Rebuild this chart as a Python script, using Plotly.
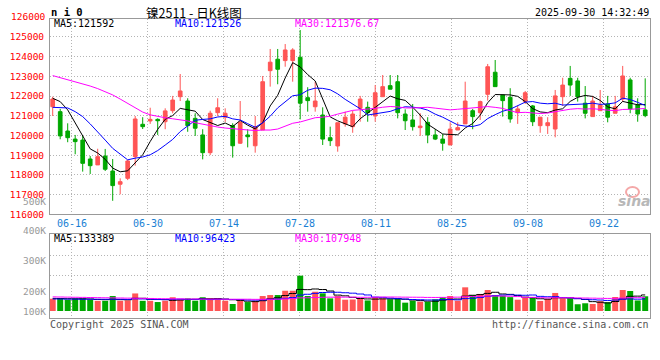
import plotly.graph_objects as go
import pandas as pd

# ---------------- data ----------------
dates = [d.strftime("%m-%d") for d in pd.bdate_range("2025-06-11", "2025-09-30")]
tick_labels = ["06-16", "06-30", "07-14", "07-28", "08-11", "08-25", "09-08", "09-22"]

opens = [121460, 121210, 120230, 119820, 119770, 118810, 118510, 118960, 118200, 117530,
         117830, 118930, 120570, 120740, 120820, 120700, 121260, 121970, 121750, 120870,
         120030, 119130, 121160, 120930, 120500, 119610, 120030, 119480, 120280, 123290,
         123870, 123800, 123800, 123970, 121920, 121460, 121040, 119890, 119470, 120590,
         120450, 121380, 121430, 120990, 121970, 122530, 122730, 121090, 120790, 120400,
         120670, 120030, 119820, 119520, 120280, 120590, 121260, 121160, 122090, 123210,
         122060, 121940, 121160, 121720, 121500, 120500, 120500, 120330, 121970, 122900,
         122770, 121640, 120960, 121260, 121600, 121130, 121850, 122820, 121550, 121300]
highs = [121970, 121350, 120620, 120030, 119980, 118960, 119330, 119320, 118810, 117830,
         118760, 120990, 120930, 121410, 120870, 121380, 122010, 123120, 121890, 121130,
         120320, 121260, 121890, 121380, 120620, 121750, 120320, 120990, 123020, 124390,
         124390, 124640, 124430, 125350, 122450, 122730, 121430, 120450, 120650, 121210,
         121260, 122010, 121720, 122560, 123070, 123070, 123070, 121330, 121600, 121130,
         120930, 120320, 120080, 120670, 120670, 122730, 121350, 121770, 123630, 123830,
         122060, 122400, 121500, 122260, 121550, 120930, 120930, 122310, 122930, 123530,
         122930, 122510, 122010, 122310, 122010, 122010, 123530, 122930, 121890, 122900]
lows = [120990, 119810, 119660, 119050, 118170, 118050, 118510, 118200, 116690, 117020,
        117740, 118470, 120330, 120590, 120030, 120320, 121130, 121750, 120190, 119980,
        118790, 119010, 120990, 120690, 118880, 119570, 119400, 119130, 120280, 122480,
        122600, 123490, 122730, 120820, 121210, 121210, 119520, 119470, 119180, 120450,
        120140, 120700, 120700, 120700, 121970, 122350, 120870, 120280, 120250, 119980,
        119610, 119770, 119230, 119520, 120280, 120590, 120320, 120790, 121770, 122480,
        120960, 120650, 120590, 121600, 120480, 120140, 120080, 119910, 121500, 122010,
        121720, 120870, 120960, 121260, 120670, 121130, 121720, 121130, 120700, 120930]
closes = [121850, 119980, 119890, 119690, 118590, 118470, 118930, 118290, 117460, 117660,
          118710, 120840, 120450, 120820, 120750, 121250, 121800, 122260, 120500, 120370,
          119130, 121130, 121410, 121130, 119480, 120670, 119940, 120450, 122730, 123720,
          123360, 124340, 124340, 121640, 121770, 121750, 119820, 119740, 120650, 120930,
          121090, 121850, 121160, 122170, 122480, 122350, 121160, 120750, 120450, 120480,
          120030, 119820, 119610, 120330, 120400, 121750, 120960, 121720, 123490, 122480,
          121770, 120840, 121350, 122170, 120700, 120930, 120650, 122010, 122560, 122560,
          121970, 121130, 121750, 121550, 120930, 121460, 123020, 121350, 121090, 121010]

ma5 = [121890, 121720, 121300, 120620, 120000, 119324, 119114, 118794, 118348, 118162,
       118210, 118592, 119024, 119696, 120314, 120822, 121014, 121376, 121312, 121236,
       120812, 120678, 120508, 120634, 120456, 120764, 120526, 120334, 120654, 121502,
       122040, 122920, 123698, 123480, 123090, 122768, 121864, 120944, 120746, 120578,
       120446, 120852, 121136, 121440, 121750, 122002, 121864, 121782, 121438, 121038,
       120574, 120306, 120078, 120054, 120038, 120382, 120610, 121032, 121664, 122080,
       122084, 122060, 121986, 121722, 121366, 121198, 121160, 121292, 121358, 121730,
       121938, 122034, 121982, 121780, 121454, 121352, 121730, 121650, 121558, 121574]
ma10 = [121430, 121400, 121400, 121210, 120960, 120590, 120200, 119770, 119350, 119081,
        118767, 118853, 118909, 119022, 119238, 119516, 119803, 120200, 120504, 120775,
        120817, 120846, 120942, 120973, 120846, 120788, 120602, 120421, 120644, 120979,
        121402, 121723, 122016, 122067, 122296, 122404, 122392, 122321, 122113, 121834,
        121607, 121358, 121040, 121093, 121164, 121224, 121358, 121459, 121439, 121394,
        121288, 121085, 120930, 120746, 120538, 120478, 120458, 120555, 120859, 121059,
        121233, 121335, 121509, 121693, 121723, 121641, 121610, 121639, 121546, 121554,
        121574, 121603, 121643, 121581, 121604, 121657, 121894, 121828, 121681, 121526]
ma30 = [123040, 122940, 122840, 122730, 122640, 122510, 122380, 122230, 122060, 121850,
        121630, 121400, 121190, 121050, 120960, 120900, 120850, 120800, 120740, 120650,
        120570, 120500, 120430, 120380, 120350, 120310, 120260, 120250, 120280, 120278,
        120329, 120474, 120622, 120687, 120793, 120903, 120932, 120981, 121087, 121196,
        121275, 121309, 121333, 121378, 121435, 121472, 121451, 121400, 121399, 121402,
        121432, 121389, 121329, 121302, 121333, 121369, 121403, 121445, 121470, 121429,
        121376, 121259, 121160, 121177, 121142, 121114, 121142, 121218, 121281, 121336,
        121365, 121341, 121361, 121340, 121288, 121259, 121321, 121332, 121354, 121371]

# volume, thousands of lots
vol_k = [100, 102, 92, 102, 102, 92, 83, 83, 122, 83,
         87, 143, 83, 83, 73, 84, 112, 95, 103, 84,
         112, 103, 103, 84, 57, 84, 73, 84, 122, 130,
         130, 165, 165, 288, 122, 157, 144, 103, 122, 92,
         94, 98, 86, 114, 102, 96, 100, 68, 84, 76,
         76, 95, 112, 122, 84, 193, 130, 139, 171, 130,
         124, 113, 92, 106, 106, 82, 98, 147, 103, 103,
         55, 63, 57, 80, 72, 114, 171, 163, 86, 120]
vol_ma5_k = [103, 102, 100, 99, 99.6, 98, 94.2, 92.4, 96.4, 92.6,
             91.6, 103.6, 103.6, 95.8, 93.8, 93.2, 87, 89.4, 93.4, 95.6,
             101.2, 99.4, 101, 97.2, 91.8, 86.2, 80.2, 76.4, 84, 98.6,
             107.8, 126.2, 142.4, 175.6, 174, 179.4, 175.2, 162.8, 129.6, 123.6,
             111, 101.8, 98.4, 96.8, 98.8, 99.2, 99.6, 96, 90, 84.8,
             80.8, 79.8, 88.6, 96.2, 97.8, 121.2, 128.2, 133.6, 143.4, 152.6,
             138.8, 135.4, 126, 113, 108.2, 99.8, 96.8, 107.8, 107.2, 106.6,
             101.2, 94.2, 76.2, 71.6, 65.4, 77.2, 98.8, 120, 121.2, 130.8]
vol_ma10_k = [98, 98, 97, 97, 96, 96, 96, 96, 96, 96.1,
              94.8, 98.9, 98, 96.1, 93.2, 92.4, 95.3, 96.5, 94.6, 94.7,
              97.2, 93.2, 95.2, 95.3, 93.7, 93.7, 89.8, 88.7, 90.6, 95.2,
              97, 103.2, 109.4, 129.8, 136.3, 143.6, 150.7, 152.6, 152.6, 148.8,
              145.2, 138.5, 130.6, 113.2, 111.2, 105.1, 100.7, 97.2, 93.4, 91.8,
              90, 89.7, 92.3, 93.1, 91.3, 101, 104, 111.1, 119.8, 125.2,
              130, 131.8, 129.8, 128.2, 130.4, 119.3, 116.1, 116.9, 110.1, 107.4,
              100.5, 95.5, 92, 89.4, 86, 89.2, 96.5, 98.1, 96.4, 98.1]
vol_ma30_k = [115, 114, 113, 112, 111, 110, 109, 108, 107, 106,
              105, 104, 103, 102, 101, 100, 99, 99, 98, 98,
              97, 97, 97, 96, 96, 96, 96, 95, 95, 95.3,
              96.3, 98.4, 100.9, 107.1, 107.7, 109.9, 111.9, 112.6, 112.6, 112.9,
              113.1, 111.6, 111.7, 112.8, 113.7, 114.1, 113.7, 112.8, 112.2, 111.9,
              110.7, 110.5, 110.8, 112, 112.9, 116.6, 118.5, 120.3, 121.9, 121.9,
              121.7, 120, 117.6, 111.5, 111, 108.5, 106.9, 108.4, 107.8, 108.1,
              106.8, 105.7, 104.7, 103.6, 102.6, 103.2, 105.5, 108.7, 108.8, 110.2]

price_ticks = [116000, 117000, 118000, 119000, 120000, 121000, 122000, 123000, 124000, 125000]
vol_axis_labels = ["500K", "400K", "300K", "200K", "100K"]

# ---------------- layout helpers ----------------
MONO = "DejaVu Sans Mono"
RED, GREEN = "#ff5555", "#00a800"
GRID = "#b4b4b4"
FRAME = "#999999"


def xp(px):
    return (px - 50) / 600.0


def yp(py):
    return (318 - py) / 299.0


x = list(range(len(dates)))
vol = [v * 1000 for v in vol_k]
vma5 = [v * 1000 for v in vol_ma5_k]
vma10 = [v * 1000 for v in vol_ma10_k]
vma30 = [v * 1000 for v in vol_ma30_k]
up = [c >= o for o, c in zip(opens, closes)]

tickvals = [dates.index(t) - 0.43 + 0.0133 * (dates.index(t) - 3) for t in tick_labels]

fig = go.Figure()
fig.add_trace(go.Candlestick(
    x=x, open=opens, high=highs, low=lows, close=closes,
    increasing=dict(line=dict(color=RED, width=1), fillcolor=RED),
    decreasing=dict(line=dict(color=GREEN, width=1), fillcolor=GREEN),
    whiskerwidth=0, xaxis="x", yaxis="y", hoverinfo="skip"))
for vals, col in [(ma5, "#000000"), (ma10, "#0000ff"), (ma30, "#ff00ff")]:
    fig.add_trace(go.Scatter(x=x, y=vals, mode="lines", line=dict(color=col, width=1),
                             xaxis="x", yaxis="y", hoverinfo="skip"))

fig.add_trace(go.Bar(x=x, y=vol, width=0.8,
                     marker=dict(color=[RED if u else GREEN for u in up], line=dict(width=0)),
                     xaxis="x2", yaxis="y2", hoverinfo="skip"))
for vals, col in [(vma5, "#000000"), (vma10, "#0000ff"), (vma30, "#ff00ff")]:
    fig.add_trace(go.Scatter(x=x, y=vals, mode="lines", line=dict(color=col, width=1, shape="hvh"),
                             xaxis="x2", yaxis="y2", hoverinfo="skip"))

xrange = [-0.36, len(dates) - 0.36]
common_x = dict(range=xrange, tickvals=tickvals, showgrid=True, gridcolor=GRID, griddash="1px,2px",
                gridwidth=1, showline=True, mirror=True, linecolor=FRAME, linewidth=1,
                ticks="", zeroline=False, fixedrange=True, automargin=False)

ann = []


def text(px, py, s, color="#000000", size=10, anchor="left", family=MONO, bold=False):
    ann.append(dict(x=xp(px), y=yp(py), xref="paper", yref="paper", text=("<b>%s</b>" % s) if bold else s,
                    showarrow=False, xanchor=anchor, yanchor="middle", borderpad=0,
                    font=dict(family=family, size=size, color=color)))


text(50, 12, "n i 0", size=10.5, bold=True)
text(194, 12, "镍2511 - 日K线图", size=12.5, anchor="center", family="Noto Sans CJK SC")
text(650, 12, "2025-09-30 14:32:49", anchor="right")
text(53, 24, "MA5:%d" % 121592)
text(174, 24, "MA10:%d" % 121526, color="#0000ff")
text(294, 24, "MA30:%.2f" % 121376.67, color="#ff00ff")
text(53, 238, "MA5:%d" % 133389)
text(174, 238, "MA10:%d" % 96423, color="#0000ff")
text(294, 238, "MA30:%d" % 107948, color="#ff00ff")
text(47, 16, "126000", color="#ff0000", size=9.5, anchor="right")
for lbl, py in zip(vol_axis_labels, [201, 230, 260, 291, 311]):
    text(47, py, lbl, color="#999999", size=9.5, anchor="right")
text(49, 324, "Copyright 2025 SINA.COM", color="#555555")
text(650, 324, "http://finance.sina.com.cn", color="#555555", anchor="right")
# sina logo
ann.append(dict(x=xp(634), y=yp(201), xref="paper", yref="paper", text="<b><i>sina</i></b>",
                showarrow=False, xanchor="center", yanchor="middle",
                font=dict(family="DejaVu Sans", size=14, color="#b8b8b8")))

shapes = [dict(type="circle", xref="paper", yref="paper", x0=xp(626), x1=xp(639), y0=yp(197), y1=yp(187),
               line=dict(color="#f4a8a8", width=2), fillcolor="rgba(255,255,255,0)")]

fig.update_layout(
    width=660, height=360, autosize=False,
    margin=dict(l=50, r=10, t=19, b=42, pad=0, autoexpand=False),
    paper_bgcolor="white", plot_bgcolor="white", showlegend=False,
    boxgap=0.3,
    xaxis=dict(anchor="y", rangeslider=dict(visible=False), ticktext=tick_labels, showticklabels=True,
               tickfont=dict(family=MONO, size=10, color="#1a7fd4"), **common_x),
    xaxis2=dict(anchor="y2", matches="x", showticklabels=False, **common_x),
    yaxis=dict(domain=[yp(214.4), 1.0], range=[116000, 125910], tickvals=price_ticks,
               ticktext=[str(v) for v in price_ticks],
               tickfont=dict(family=MONO, size=9.5, color="#ff0000"), ticklabelstandoff=3,
               showgrid=True, gridcolor=GRID, griddash="1px,2px", showline=True, mirror=True,
               linecolor=FRAME, ticks="", zeroline=False, fixedrange=True, automargin=False),
    yaxis2=dict(domain=[0, yp(234)], range=[-57050, 627550], tickvals=[287700, 450700],
                showticklabels=False, showgrid=True, gridcolor=GRID, griddash="1px,2px",
                showline=True, mirror=True, linecolor=FRAME, ticks="", zeroline=False, fixedrange=True,
                automargin=False),
    annotations=ann, shapes=shapes,
)

fig.write_html("out.html", config={"displayModeBar": False, "staticPlot": True},
               post_script="document.body.style.margin='0';document.body.style.padding='0';")
